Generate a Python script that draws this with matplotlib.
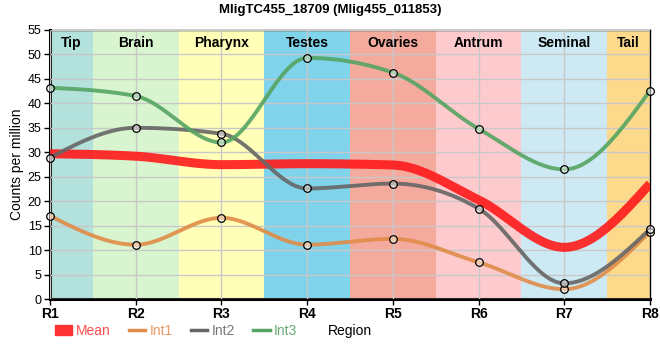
import numpy as np
import matplotlib
matplotlib.use("Agg")
import matplotlib.pyplot as plt
from matplotlib.lines import Line2D
from matplotlib.patches import Patch

plt.rcParams['font.family'] = ['Liberation Sans', 'DejaVu Sans']

regions = ["R1", "R2", "R3", "R4", "R5", "R6", "R7", "R8"]
tissues = ["Tip", "Brain", "Pharynx", "Testes", "Ovaries", "Antrum", "Seminal", "Tail"]
tissue_colors = ["#b3e2dc", "#d9f5d0", "#ffffb8", "#7fd3ea", "#f4ab9e", "#fdcbcd", "#cdeaf4", "#fdd98c"]

int1 = [17.0, 11.1, 16.6, 11.1, 12.3, 7.5, 2.0, 13.8]
int2 = [28.9, 35.0, 33.8, 22.6, 23.6, 18.5, 3.2, 14.3]
int3 = [43.2, 41.5, 32.0, 49.3, 46.3, 34.8, 26.5, 42.6]
mean = list(np.mean([int1, int2, int3], axis=0))


def monotone_curve(x, y, n=40):
    """d3 curveMonotoneX style rendering of a polyline."""
    x = np.asarray(x, float); y = np.asarray(y, float)
    k = len(x)
    h = np.diff(x)
    s = np.diff(y) / h
    t = np.zeros(k)
    for i in range(1, k - 1):
        if s[i - 1] * s[i] <= 0:
            t[i] = 0.0
        else:
            p = (s[i - 1] * h[i] + s[i] * h[i - 1]) / (h[i - 1] + h[i])
            t[i] = (np.sign(s[i - 1]) + np.sign(s[i])) * min(abs(s[i - 1]), abs(s[i]), 0.5 * abs(p))
    t[0] = (3 * s[0] - t[1]) / 2 if k > 2 else s[0]
    t[-1] = (3 * s[-1] - t[-2]) / 2 if k > 2 else s[-1]
    xs, ys = [], []
    for i in range(k - 1):
        u = np.linspace(0, 1, n)
        x0, x1 = x[i], x[i + 1]
        dx = (x1 - x0)
        h00 = 2 * u**3 - 3 * u**2 + 1
        h10 = u**3 - 2 * u**2 + u
        h01 = -2 * u**3 + 3 * u**2
        h11 = u**3 - u**2
        xs.append(x0 + u * dx)
        ys.append(h00 * y[i] + h10 * dx * t[i] + h01 * y[i + 1] + h11 * dx * t[i + 1])
    return np.concatenate(xs), np.concatenate(ys)


fig = plt.figure(figsize=(6.6, 3.6), dpi=100)
ax = fig.add_axes([50 / 660, 1 - 299 / 360, 600 / 660, 269 / 360])

xpos = np.arange(len(regions))
xmin, xmax = 0, len(regions) - 1
for i, (name, col) in enumerate(zip(tissues, tissue_colors)):
    lo, hi = max(i - 0.5, xmin), min(i + 0.5, xmax)
    ax.axvspan(lo, hi, color=col, zorder=0, lw=0)
    ax.text((lo + hi) / 2, 53.7, name, ha='center', va='top', fontsize=10, fontweight='bold', zorder=5)

ax.set_xlim(xmin, xmax)
ax.set_ylim(0, 55)
ax.set_yticks(np.arange(0, 56, 5))
ax.set_xticks(xpos)
ax.set_xticklabels(regions, fontweight='bold', fontsize=10)
ax.tick_params(axis='y', labelsize=9, length=4, width=1, pad=2)
ax.tick_params(axis='x', length=4, width=1, pad=2)
ax.grid(True, color='#c8c8c8', lw=1, zorder=1)
ax.set_axisbelow(False)
for sp in ['left', 'bottom']:
    ax.spines[sp].set_linewidth(2.2)
for sp in ['top', 'right']:
    ax.spines[sp].set_linewidth(1)

cx, cy = monotone_curve(xpos, mean)
ax.plot(cx, cy, color='#ff1a1a', lw=6.5, alpha=0.9, zorder=3, solid_capstyle='butt')

series = [(int1, '#e08c48'), (int2, '#666666'), (int3, '#55a463')]
for vals, col in series:
    cx, cy = monotone_curve(xpos, vals)
    ax.plot(cx, cy, color=col, lw=2.8, alpha=0.9, zorder=3)
for vals, col in series:
    ax.scatter(xpos, vals, s=30, facecolor=(1, 1, 1, 0.5), edgecolor='black', lw=0.9, zorder=4, clip_on=False)

ax.set_ylabel("Counts per million", fontsize=10, labelpad=3)
fig.text(350 / 660, 1 - 331 / 360, "Region", ha='center', va='center', fontsize=10)
fig.text(330 / 660, 1 - 10 / 360, "MligTC455_18709 (Mlig455_011853)", ha='center', va='center',
         fontsize=9.5, fontweight='bold')

handles = [Patch(color='#ff3333', label='Mean'),
           Line2D([], [], color='#e08c48', lw=2.5, label='Int1'),
           Line2D([], [], color='#666666', lw=2.5, label='Int2'),
           Line2D([], [], color='#55a463', lw=2.5, label='Int3')]
leg = fig.legend(handles=handles, loc='center left', bbox_to_anchor=(55 / 660, 1 - 331 / 360), ncol=4,
                 frameon=False, fontsize=10, handlelength=1.2, handletextpad=0.3, columnspacing=1.3,
                 borderaxespad=0, borderpad=0)
for txt, col in zip(leg.get_texts(), ['#ff4d4d', '#e89a60', '#777777', '#66aa72']):
    txt.set_color(col)

fig.savefig("out.png", dpi=100)
